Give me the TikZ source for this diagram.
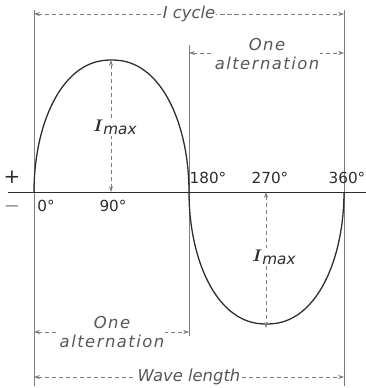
\documentclass[tikz,border=0pt]{standalone}
\usepackage{amsmath,amssymb}
\usepackage{fontspec}
\setmainfont{DejaVu Sans}
\usepackage{tikz}
\usetikzlibrary{arrows.meta}
\definecolor{curvegray}{RGB}{45,45,45}
\definecolor{dimgray}{RGB}{125,125,125}

\begin{document}
\begin{tikzpicture}[x=0.03cm, y=-0.03cm,
  wave/.style={draw=curvegray, line width=1.1pt},
  guide/.style={draw=dimgray, line width=0.6pt},
  dim/.style={draw=dimgray, line width=0.6pt, dash pattern=on 3.5pt off 2.5pt,
    {Stealth[length=5pt,width=3.5pt]}-{Stealth[length=5pt,width=3.5pt]}},
  lbl/.style={font=\fontsize{14}{15.5}\selectfont\itshape, text=curvegray!80,
    fill=white, inner sep=1pt, align=center},
  altlbl/.style={lbl, font=\fontsize{14}{15.5}\selectfont\itshape\addfontfeature{LetterSpace=9}},
  deg/.style={font=\fontsize{13}{13}\selectfont, text=curvegray, inner sep=1pt},
  sign/.style={font=\fontsize{17}{17}\selectfont, text=curvegray, inner sep=1pt},
  imax/.style={text=curvegray, fill=white, inner sep=1pt, anchor=west},
]
  \useasboundingbox (0,0) rectangle (366,388);

  % reference points on the axis
  \coordinate (axL) at (8,192);
  \coordinate (axR) at (366,192);
  \coordinate (pk) at (111,60);
  \coordinate (pk0) at (111,192);
  \coordinate (tr) at (266,328);
  \coordinate (tr0) at (266,192);

  % guide lines
  \coordinate (g0t) at (34,10);
  \coordinate (g0b) at (34,386);
  \coordinate (g1t) at (189,45);
  \coordinate (g1b) at (189,336);
  \coordinate (g2t) at (344,10);
  \coordinate (g2b) at (344,386);
  \draw[guide] (g0t) -- (g0b);
  \draw[guide] (g1t) -- (g1b);
  \draw[guide] (g2t) -- (g2b);

  % axis and wave (two slightly pointed half ellipses)
  \draw[guide, draw=curvegray, line width=0.7pt] (axL) -- (axR);
  \draw[wave] plot[domain=0:180, samples=90]
    ({111.5-77.5*sign(cos(\x))*abs(cos(\x))^0.91},{192-132*sin(\x)});
  \draw[wave] plot[domain=0:180, samples=90]
    ({266.5-77.5*sign(cos(\x))*abs(cos(\x))^0.91},{192+132*sin(\x)});

  % dimensions
  \coordinate (cyL) at (34,14);
  \coordinate (cyR) at (344,14);
  \draw[dim] (cyL) -- (cyR) node[lbl, midway] (cycle) {I cycle};

  \coordinate (alt1L) at (189,53);
  \coordinate (alt1R) at (344,53);
  \draw[dim] (alt1L) -- (alt1R);
  \node[altlbl] (alt1) at (267,54) {One\\alternation};

  \coordinate (alt2L) at (34,332);
  \coordinate (alt2R) at (189,332);
  \draw[dim] (alt2L) -- (alt2R);
  \node[altlbl] (alt2) at (112,332) {One\\alternation};

  \coordinate (wlL) at (34,377);
  \coordinate (wlR) at (344,377);
  \draw[dim] (wlL) -- (wlR) node[lbl, midway] (wave) {Wave length};

  % peak values
  \draw[dim] (pk0) -- (pk);
  \node[imax] (imaxA) at (92,127)
    {{\fontsize{14}{14}\selectfont$\boldsymbol{I}$}\raisebox{-2.5pt}{\fontsize{13}{13}\selectfont\itshape max}};
  \draw[dim] (tr0) -- (tr);
  \node[imax] (imaxB) at (251,257)
    {{\fontsize{14}{14}\selectfont$\boldsymbol{I}$}\raisebox{-2.5pt}{\fontsize{13}{13}\selectfont\itshape max}};

  % axis labels
  \node[sign] (plus) at (12,177) {+};
  \node[sign] (minus) at (12,206) {$-$};
  \node[deg] (d0) at (46,206) {0°};
  \node[deg] (d90) at (113,206) {90°};
  \node[deg] (d180) at (208,178) {180°};
  \node[deg] (d270) at (270,178) {270°};
  \node[deg] (d360) at (347,178) {360°};
\end{tikzpicture}
\end{document}
